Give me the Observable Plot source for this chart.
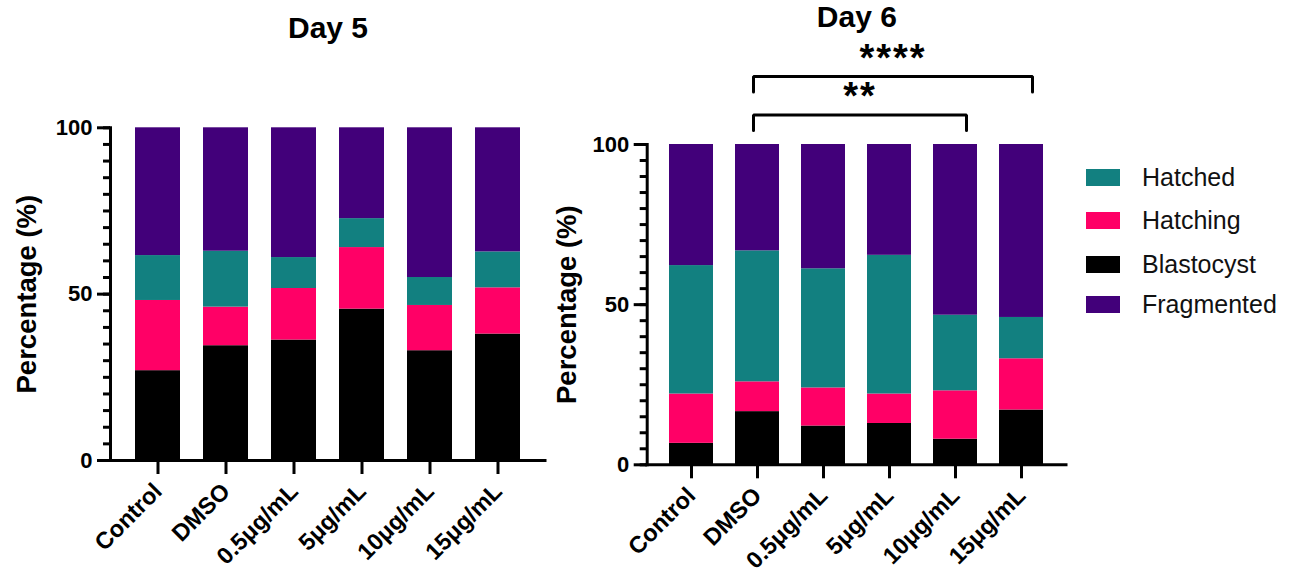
<!DOCTYPE html>
<html>
<head>
<meta charset="utf-8">
<script src="https://cdn.jsdelivr.net/npm/d3@7"></script>
<script src="https://cdn.jsdelivr.net/npm/@observablehq/plot@0.6"></script>
<style>
  html, body { margin: 0; padding: 0; background: #fff; }
  #root { position: relative; width: 1294px; height: 573px; overflow: hidden; font-family: "Liberation Sans", Arial, sans-serif; }
  .panel { position: absolute; top: 0; }
  .legend { position: absolute; left: 1086px; top: 0; }
  .legend .row { position: absolute; left: 0; width: 220px; height: 20px; display: flex; align-items: center; }
  .legend .sw { width: 34px; height: 17px; flex: none; }
  .legend .lb { margin-left: 22px; font-size: 25px; line-height: 25px; color: #111; white-space: nowrap; }
</style>
</head>
<body>
<div id="root"></div>
<script>
// ---------- data ----------
const groups = ["Control", "DMSO", "0.5μg/mL", "5μg/mL", "10μg/mL", "15μg/mL"];
const stages = ["Blastocyst", "Hatching", "Hatched", "Fragmented"]; // bottom -> top
const stageColors = ["#000000", "#ff0066", "#128080", "#42007a"];
const legendOrder = ["Hatched", "Hatching", "Blastocyst", "Fragmented"];
const yTicks = [0, 50, 100];
const yMinorTicks = d3.range(0, 101, 5);

const day5Blastocyst = [27.0, 34.5, 36.2, 45.5, 33.0, 38.0];
const day5Hatching   = [21.1, 11.6, 15.5, 18.5, 13.6, 13.9];
const day5Hatched    = [13.5, 16.8,  9.3,  8.7,  8.4, 10.8];
const day5Fragmented = [38.4, 37.1, 39.0, 27.3, 45.0, 37.3];

const day6Blastocyst = [ 6.7, 16.6, 12.1, 12.9,  8.0, 17.1];
const day6Hatching   = [15.4,  9.3, 11.9,  9.2, 15.1, 16.0];
const day6Hatched    = [40.1, 40.9, 37.2, 43.3, 23.6, 12.9];
const day6Fragmented = [37.8, 33.2, 38.8, 34.6, 53.3, 54.0];

const comparisons = [
  {from: "DMSO", to: "10μg/mL", label: "**"},
  {from: "DMSO", to: "15μg/mL", label: "****"}
];

// ---------- helpers ----------
function toRows(series) {
  const rows = [];
  stages.forEach((s, k) => groups.forEach((g, i) => rows.push({group: g, stage: s, value: series[k][i]})));
  return rows;
}
const day5 = toRows([day5Blastocyst, day5Hatching, day5Hatched, day5Fragmented]);
const day6 = toRows([day6Blastocyst, day6Hatching, day6Hatched, day6Fragmented]);

const FONT = "Liberation Sans, Arial, sans-serif";

function panel({title, data, width, marginLeft, marginRight, marginTop, marginBottom, paddingOuter, titleDy, labelDx, extra = []}) {
  const height = 573;
  const fw = width - marginLeft - marginRight;
  const fh = height - marginTop - marginBottom;
  return Plot.plot({
    width, height,
    marginLeft, marginRight, marginTop, marginBottom,
    style: {fontFamily: FONT, fontSize: "22px", color: "black", background: "transparent", overflow: "visible"},
    x: {domain: groups, paddingInner: 0.335, paddingOuter, align: 0.5, axis: null},
    y: {domain: [0, 100], axis: null},
    color: {domain: stages, range: stageColors},
    marks: [
      Plot.barY(data, {x: "group", y: "value", fill: "stage", order: stages}),
      // minor & major y ticks
      Plot.tickY(yMinorTicks, {y: d => d, insetLeft: -7, insetRight: fw, stroke: "black", strokeWidth: 3}),
      Plot.tickY(yTicks, {y: d => d, insetLeft: -13, insetRight: fw, stroke: "black", strokeWidth: 3}),
      // x ticks
      Plot.tickX(groups, {x: d => d, insetTop: fh, insetBottom: -14, stroke: "black", strokeWidth: 3}),
      Plot.axisY({ticks: yTicks, tickSize: 0, tickPadding: 18, fontSize: 22, fontWeight: "bold", label: null}),
      Plot.axisX({tickSize: 0, tickPadding: 27, tickRotate: -45, fontSize: 23.5, fontWeight: "bold", label: null}),
      Plot.frame({anchor: "left", stroke: "black", strokeWidth: 3, strokeLinecap: "square"}),
      Plot.ruleY([0], {stroke: "black", strokeWidth: 3, strokeLinecap: "square"}),
      Plot.text([title], {frameAnchor: "top", lineAnchor: "middle", textAnchor: "middle", dy: titleDy, fontSize: 30, fontWeight: "bold"}),
      Plot.text(["Percentage (%)"], {frameAnchor: "left", textAnchor: "middle", lineAnchor: "middle", rotate: -90, dx: labelDx, fontSize: 27.5, fontWeight: "bold"}),
      ...extra
    ]
  });
}

// bracket marks for day 6
const bracketBase = i => 104.4 + i * 12;
const bracketTop = i => bracketBase(i) + 4.8;
const bracketPts = [];
comparisons.forEach((c, i) => {
  bracketPts.push({id: i, side: "from", x: c.from, y: bracketBase(i)}, {id: i, side: "from", x: c.from, y: bracketTop(i)},
                  {id: i, side: "to", x: c.to, y: bracketTop(i)}, {id: i, side: "to", x: c.to, y: bracketBase(i)});
});
const bracketMarks = [
  Plot.line(bracketPts, {
    x: "x", y: "y", z: "id", stroke: "black", strokeWidth: 3, strokeLinejoin: "miter",
    render(index, scales, values, dimensions, context, next) {
      // bracket ends sit slightly outside the bar centres, as in the original figure
      const X = Float64Array.from(values.x, (v, i) => v + (bracketPts[i].side === "from" ? -4 : 11));
      return next(index, scales, {...values, x: X}, dimensions, context);
    }
  }),
  Plot.text(comparisons, {
    x: "from",
    y: (d, i) => bracketTop(i) + 5.6,
    text: "label", fontSize: 38, fontWeight: "bold",
    render(index, scales, values, dimensions, context, next) {
      const X = Float64Array.from(comparisons, c => (scales.x(c.from) - 4 + scales.x(c.to) + 11) / 2);
      const g = next(index, scales, {...values, x: X}, dimensions, context);
      if (g) g.setAttribute("letter-spacing", "2");
      return g;
    }
  })
];

const root = document.getElementById("root");

const p5 = panel({title: "Day 5", data: day5, width: 560, marginLeft: 110, marginRight: 15, marginTop: 127.3, marginBottom: 113,
  paddingOuter: 0.335, titleDy: -99, labelDx: -83});
const d5 = document.createElement("div"); d5.className = "panel"; d5.style.left = "0px"; d5.appendChild(p5); root.appendChild(d5);

const p6 = panel({title: "Day 6", data: day6, width: 540, marginLeft: 106.7, marginRight: 14, marginTop: 144, marginBottom: 108.7,
  paddingOuter: 0.326, titleDy: -127, labelDx: -80, extra: bracketMarks});
const d6 = document.createElement("div"); d6.className = "panel"; d6.style.left = "540px"; d6.appendChild(p6); root.appendChild(d6);

// legend
const legend = document.createElement("div"); legend.className = "legend";
const rowCenters = [177, 220, 264, 304.5];
legendOrder.forEach((s, i) => {
  const row = document.createElement("div"); row.className = "row";
  row.style.top = (rowCenters[i] - 10) + "px";
  const sw = document.createElement("div"); sw.className = "sw"; sw.style.background = stageColors[stages.indexOf(s)];
  const lb = document.createElement("div"); lb.className = "lb"; lb.textContent = s;
  row.appendChild(sw); row.appendChild(lb); legend.appendChild(row);
});
root.appendChild(legend);
</script>
</body>
</html>
